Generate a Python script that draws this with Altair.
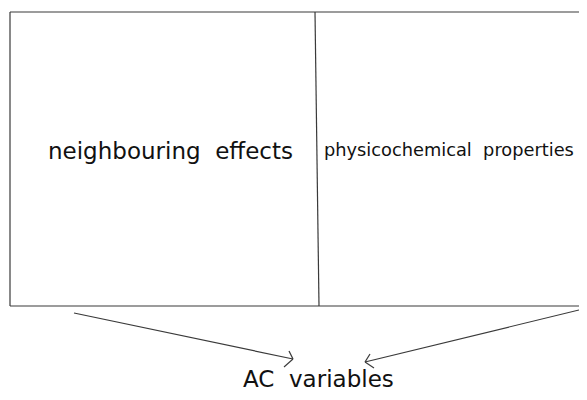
import altair as alt
import pandas as pd

# Diagram geometry (in page pixel coordinates, y downward)
seg_x1 = [10, 10, 10, 315, 74, 579, 293, 293, 365, 365]
seg_y1 = [12, 306, 12, 12, 313, 310, 359, 359, 362, 362]
seg_x2 = [579, 579, 10, 319, 293, 365, 289, 284, 370, 374]
seg_y2 = [12, 306, 306, 306, 359, 362, 351, 367, 354, 368]
seg_kind = ["box", "box", "box", "box", "arrow", "arrow", "head", "head", "head", "head"]

labels = ["neighbouring\u00a0 effects", "physicochemical\u00a0 properties", "AC\u00a0 variables"]
label_x = [48, 324, 243]
label_y = [159, 156, 387]
label_size = [23, 17.8, 23]

segs = pd.DataFrame({"x": seg_x1, "y": seg_y1, "x2": seg_x2, "y2": seg_y2, "kind": seg_kind})
texts = pd.DataFrame({"label": labels, "x": label_x, "y": label_y, "size": label_size})

xs = alt.Scale(domain=[8, 579], nice=False, zero=False)
ys = alt.Scale(domain=[8, 392], nice=False, zero=False, reverse=True)

lines = alt.Chart(segs).mark_rule(color="#3a3a3a", strokeWidth=1.2).encode(
    x=alt.X("x:Q", scale=xs, axis=None),
    y=alt.Y("y:Q", scale=ys, axis=None),
    x2="x2:Q",
    y2="y2:Q",
)

txt = alt.Chart(texts).mark_text(
    align="left", baseline="alphabetic", font="DejaVu Sans", color="#111111"
).encode(
    x=alt.X("x:Q", scale=xs, axis=None),
    y=alt.Y("y:Q", scale=ys, axis=None),
    text="label:N",
    size=alt.Size("size:Q", scale=None, legend=None),
)

chart = (
    alt.layer(lines, txt)
    .properties(width=571, height=384, padding=0, autosize=alt.AutoSizeParams(type="none"))
    .configure_view(stroke=None)
)

chart.save("out.html", embed_options={"renderer": "svg", "actions": False})
